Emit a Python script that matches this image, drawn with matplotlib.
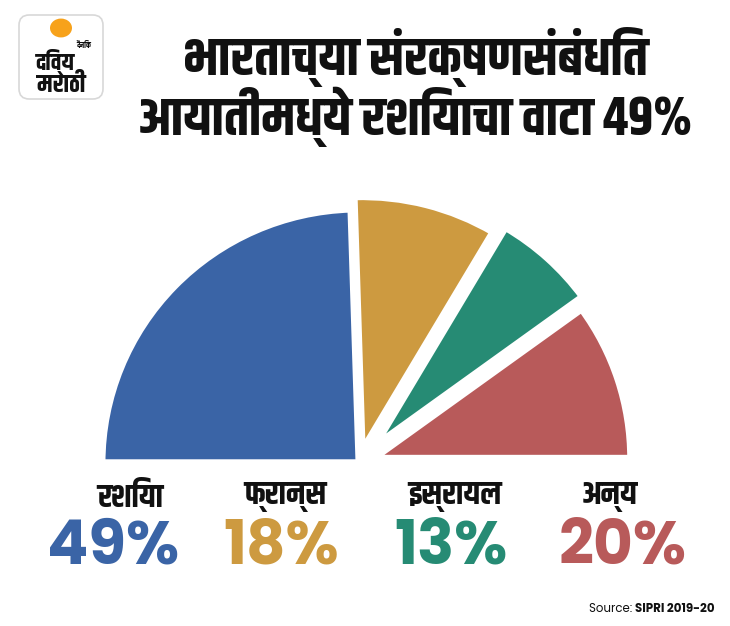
import matplotlib
matplotlib.use("Agg")
import matplotlib.pyplot as plt
from matplotlib.patches import FancyBboxPatch, Circle

title_lines = ["भारताच्या संरक्षणसंबंधित", "आयातीमध्ये रशियाचा वाटा 49%"]
categories = ["रशिया", "फ्रान्स", "इस्रायल", "अन्य"]
shares = [49, 18, 13, 20]
colors = ["#3A64A6", "#CD9A40", "#268B74", "#B85A5A"]
source_label = "Source: "
source_name = "SIPRI 2019-20"

W, H = 730, 626
fig = plt.figure(figsize=(W / 100, H / 100), dpi=100)
fig.patch.set_facecolor("white")

# pie (upper half only), centre / radii in pixels
ax = fig.add_axes([0, 0, 1, 1])
cx, cy, rx, ry = 359, 463, 257, 254
ax.pie(shares + [sum(shares)], colors=colors + ["none"], startangle=180,
       counterclock=False, explode=[0, 0.05, 0.09, 0.06, 0],
       wedgeprops=dict(edgecolor="white", linewidth=5))
ax.set_aspect("auto")
ax.set_xlim(-cx / rx, (W - cx) / rx)
ax.set_ylim(-(H - cy) / ry, cy / ry)
ax.axis("off")

def fx(px):
    return px / W

def fy(py):
    return 1 - py / H

dev_font = "Khand"
# title
fig.text(fx(415), fy(57), title_lines[0], fontsize=39, fontweight="bold",
         family=dev_font, ha="center", va="center", color="#111111")
fig.text(fx(415), fy(117), title_lines[1], fontsize=39, fontweight="bold",
         family=dev_font, ha="center", va="center", color="#111111")

# category labels and shares
label_x = [130, 285, 455, 610]
pct_x = [113, 281, 451, 623]
for cat, val, col, lx, px in zip(categories, shares, colors, label_x, pct_x):
    fig.text(fx(lx), fy(497), cat, fontsize=23, fontweight="bold",
             family=dev_font, ha="center", va="center", color="#111111")
    fig.text(fx(px), fy(549), f"{val}%", fontsize=44, fontweight="bold",
             family="Poppins", ha="center", va="center", color=col)

# logo
logo = FancyBboxPatch((fx(19), fy(99)), fx(84), 84 / H,
                      boxstyle="round,pad=0,rounding_size=0.014",
                      transform=fig.transFigure, facecolor="white",
                      edgecolor="#d8d8d8", linewidth=1.2, mutation_aspect=W / H)
fig.patches.append(logo)
sun = Circle((fx(61), fy(28)), 11 / W, transform=fig.transFigure,
             facecolor="#F7A21B", edgecolor="none")
fig.patches.append(sun)
fig.text(fx(84), fy(45), "दैनिक", fontsize=5.5, fontweight="bold", family=dev_font,
         ha="center", va="center", color="#111111")
fig.text(fx(55), fy(62), "दिव्य", fontsize=17, fontweight="bold", family=dev_font,
         ha="center", va="center", color="#111111")
fig.text(fx(61), fy(85), "मराठी", fontsize=18, fontweight="bold", family=dev_font,
         ha="center", va="center", color="#111111")

# source
t2 = fig.text(fx(715), fy(609), source_name, fontsize=8.5, fontweight="bold",
              family="Poppins", ha="right", va="center", color="#111111")
fig.canvas.draw()
bb = t2.get_window_extent()
fig.text(bb.x0 / W, fy(609), source_label, fontsize=8.5, family="Poppins",
         ha="right", va="center", color="#111111")

fig.savefig("out.png", dpi=100)
